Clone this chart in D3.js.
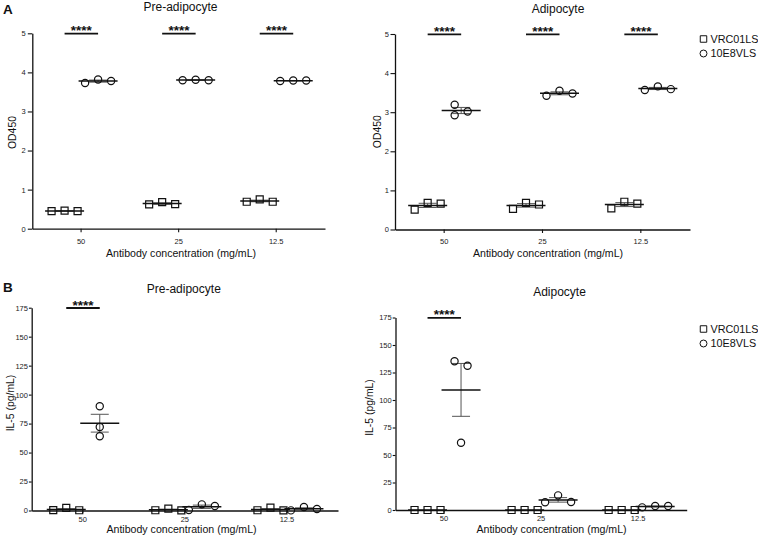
<!DOCTYPE html>
<html><head><meta charset="utf-8">
<script src="https://cdn.jsdelivr.net/npm/d3@7"></script>
<style>
body{margin:0;background:#fff;}
svg{display:block;font-family:"Liberation Sans",Arial,Helvetica,sans-serif;}
</style></head><body>
<svg id="chart" width="758" height="536"></svg>
<script>
// ---------------- DATA ----------------
const concentrations = ["50", "25", "12.5"];
const seriesNames = ["VRC01LS", "10E8VLS"];
const odTicks = [0, 1, 2, 3, 4, 5];
const il5Ticks = [0, 25, 50, 75, 100, 125, 150, 175];
const xAxisTitle = "Antibody concentration (mg/mL)";

// Panel A, pre-adipocyte (OD450), one triplicate per concentration
const preOD_VRC01LS = [[0.45, 0.46, 0.45], [0.62, 0.68, 0.63], [0.69, 0.75, 0.69]];
const preOD_10E8VLS = [[3.73, 3.82, 3.78], [3.80, 3.81, 3.80], [3.78, 3.79, 3.79]];
// Panel A, adipocyte (OD450)
const adiOD_VRC01LS = [[0.51, 0.68, 0.66], [0.53, 0.68, 0.64], [0.54, 0.71, 0.66]];
const adiOD_10E8VLS = [[3.19, 2.92, 3.02], [3.42, 3.55, 3.48], [3.57, 3.66, 3.59]];
// Panel B, pre-adipocyte (IL-5 pg/mL)
const preIL5_VRC01LS = [[0.3, 2.3, 0.2], [0.2, 1.7, 0.1], [0.2, 2.4, 0.1]];
const preIL5_10E8VLS = [[90, 72, 64], [0.5, 5.3, 3.9], [0.1, 3.0, 1.3]];
// Panel B, adipocyte (IL-5 pg/mL)
const adiIL5_VRC01LS = [[0, 0, 0], [0, 0, 0], [0, 0, 0]];
const adiIL5_10E8VLS = [[135.3, 131.1, 61.2], [7.0, 13.3, 7.3], [2.4, 3.6, 3.6]];

// significance labels per concentration
const sigOD = ["****", "****", "****"];
const sigIL5 = ["****", "", ""];

// ---------------- LAYOUT ----------------
const panels = [
  { letter: "A", letterX: 3, letterY: 13.5, title: "Pre-adipocyte", titleX: 180.5, titleY: 11,
    x0: 32.3, x1: 325, yTop: 33.3, yBot: 228.7, yMax: 5, ticks: odTicks, ylab: "OD450",
    ylabX: 12.7, ylabY: 132.5, xTitleX: 181, xTitleY: 256.8, xLabY: 9.5, yTickSize: 4.5, yTickPad: 2.2, xTickSize: 3.5,
    data: [preOD_VRC01LS, preOD_10E8VLS], sig: sigOD, legendY: null, starDy: 1.2 },
  { letter: null, title: "Adipocyte", titleX: 558, titleY: 12.5,
    x0: 395, x1: 690, yTop: 34, yBot: 229.5, yMax: 5, ticks: odTicks, ylab: "OD450",
    ylabX: 377.5, ylabY: 131.7, xTitleX: 548, xTitleY: 257, xLabY: 9.5, yTickSize: 4.5, yTickPad: 1.5, xTickSize: 3.5,
    data: [adiOD_VRC01LS, adiOD_10E8VLS], sig: sigOD, legendY: 39, starDy: 2 },
  { letter: "B", letterX: 3, letterY: 292, title: "Pre-adipocyte", titleX: 183.8, titleY: 292.5,
    x0: 31.7, x1: 338, yTop: 307.7, yBot: 510.5, yMax: 175, ticks: il5Ticks, ylab: "IL-5 (pg/mL)",
    ylabX: 10, ylabY: 403, xTitleX: 181.5, xTitleY: 533, xLabY: 5.8, yTickSize: 2.8, yTickPad: 1, xTickSize: 2.5,
    data: [preIL5_VRC01LS, preIL5_10E8VLS], sig: sigIL5, legendY: null, starDy: 1.5 },
  { letter: null, title: "Adipocyte", titleX: 559.5, titleY: 296,
    x0: 395.5, x1: 686.7, yTop: 317.5, yBot: 510, yMax: 175, ticks: il5Ticks, ylab: "IL-5 (pg/mL)",
    ylabX: 369, ylabY: 407.5, xTitleX: 551.5, xTitleY: 533, xLabY: 5.8, yTickSize: 2.8, yTickPad: 1, xTickSize: 2.5,
    data: [adiIL5_VRC01LS, adiIL5_10E8VLS], sig: sigIL5, legendY: 329, starDy: 1.5 }
];

const seriesOffset = [-16.5, 17];   // px from band centre
const colSpacing = 13;
const overlapThr = 8;
const meanHalf = 19.5, capHalf = 9;
const symbols = [d3.symbol().type(d3.symbolSquare).size(49), d3.symbol().type(d3.symbolCircle).size(41)];

const svg = d3.select("#chart");

function columnOffsets(ys) {
  const cols = [];
  ys.forEach((yi, i) => {
    let k = 0;
    while (ys.some((yj, j) => j < i && cols[j] === k && Math.abs(yi - yj) < overlapThr)) k++;
    cols[i] = k;
  });
  const parent = ys.map((_, i) => i);
  const find = i => parent[i] === i ? i : (parent[i] = find(parent[i]));
  for (let i = 0; i < ys.length; i++)
    for (let j = i + 1; j < ys.length; j++)
      if (Math.abs(ys[i] - ys[j]) < overlapThr) parent[find(i)] = find(j);
  const maxCol = {};
  ys.forEach((_, i) => { const r = find(i); maxCol[r] = Math.max(maxCol[r] ?? 0, cols[i]); });
  return ys.map((_, i) => (cols[i] - maxCol[find(i)] / 2) * colSpacing);
}

panels.forEach(p => {
  const g = svg.append("g");
  const x = d3.scaleBand().domain(concentrations).range([p.x0, p.x1]);
  const y = d3.scaleLinear().domain([0, p.yMax]).range([p.yBot, p.yTop]);

  // axes
  const ya = g.append("g").attr("transform", `translate(${p.x0},0)`)
    .call(d3.axisLeft(y).tickValues(p.ticks).tickFormat(d3.format("d"))
      .tickSize(p.yTickSize).tickPadding(p.yTickPad).tickSizeOuter(0));
  const xa = g.append("g").attr("transform", `translate(0,${p.yBot})`)
    .call(d3.axisBottom(x).tickSize(p.xTickSize).tickSizeOuter(0));
  [ya, xa].forEach(a => {
    a.select(".domain").attr("stroke", "#111").attr("stroke-width", 1.3);
    a.selectAll(".tick line").attr("stroke", "#111").attr("stroke-width", 1.1);
    a.selectAll(".tick text").attr("font-size", 7.5).attr("fill", "#222").attr("font-family", "Liberation Sans, Arial, sans-serif");
  });
  xa.selectAll(".tick text").attr("y", p.xLabY);

  // titles
  g.append("text").attr("x", p.titleX).attr("y", p.titleY).attr("text-anchor", "middle")
    .attr("font-size", 12).attr("fill", "#111").text(p.title);
  g.append("text").attr("x", p.xTitleX).attr("y", p.xTitleY).attr("text-anchor", "middle")
    .attr("font-size", 10.6).attr("fill", "#111").text(xAxisTitle);
  g.append("text").attr("transform", `translate(${p.ylabX},${p.ylabY}) rotate(-90)`).attr("dy", "0.35em")
    .attr("text-anchor", "middle").attr("font-size", 10.4).attr("fill", "#111").text(p.ylab);
  if (p.letter) g.append("text").attr("x", p.letterX).attr("y", p.letterY).attr("font-size", 13.5)
    .attr("font-weight", "bold").attr("fill", "#111").text(p.letter);

  // data
  concentrations.forEach((c, ci) => {
    const bc = x(c) + x.bandwidth() / 2;
    p.data.forEach((series, si) => {
      const vals = series[ci];
      const cx = bc + seriesOffset[si];
      const mean = d3.mean(vals);
      const sem = d3.deviation(vals) / Math.sqrt(vals.length) || 0;
      // SEM bar
      if (sem > 0) {
        g.append("line").attr("x1", cx).attr("x2", cx).attr("y1", y(mean - sem)).attr("y2", y(mean + sem))
          .attr("stroke", "#555").attr("stroke-width", 1);
        [mean - sem, mean + sem].forEach(v => g.append("line").attr("x1", cx - capHalf).attr("x2", cx + capHalf)
          .attr("y1", y(v)).attr("y2", y(v)).attr("stroke", "#555").attr("stroke-width", 1));
      }
      g.append("line").attr("x1", cx - meanHalf).attr("x2", cx + meanHalf).attr("y1", y(mean)).attr("y2", y(mean))
        .attr("stroke", "#111").attr("stroke-width", 1.5);
      const ys = vals.map(v => y(v));
      const offs = columnOffsets(ys);
      g.selectAll(null).data(vals).enter().append("path")
        .attr("d", symbols[si]())
        .attr("transform", (v, i) => `translate(${cx + offs[i]},${ys[i]})`)
        .attr("fill", "none").attr("stroke", "#111").attr("stroke-width", 1.2);
    });
    // significance
    if (p.sig[ci]) {
      const xa1 = bc + seriesOffset[0], xa2 = bc + seriesOffset[1];
      const by = y(p.yMax) + 0.3;
      g.append("line").attr("x1", xa1).attr("x2", xa2).attr("y1", by).attr("y2", by)
        .attr("stroke", "#111").attr("stroke-width", 1.8);
      g.append("text").attr("x", (xa1 + xa2) / 2).attr("y", by + p.starDy).attr("text-anchor", "middle")
        .attr("font-size", 13.5).attr("font-weight", "bold").attr("fill", "#111").text(p.sig[ci]);
    }
  });

  // legend
  if (p.legendY !== null) {
    seriesNames.forEach((name, si) => {
      const ly = p.legendY + si * 14.5;
      g.append("path").attr("d", d3.symbol().type(si === 0 ? d3.symbolSquare : d3.symbolCircle).size(si === 0 ? 42 : 38)())
        .attr("transform", `translate(703.5,${ly})`).attr("fill", "none").attr("stroke", "#111").attr("stroke-width", 1);
      g.append("text").attr("x", 710.5).attr("y", ly).attr("dy", "0.36em").attr("font-size", 10.8)
        .attr("fill", "#111").text(name);
    });
  }
});
</script>
</body></html>
